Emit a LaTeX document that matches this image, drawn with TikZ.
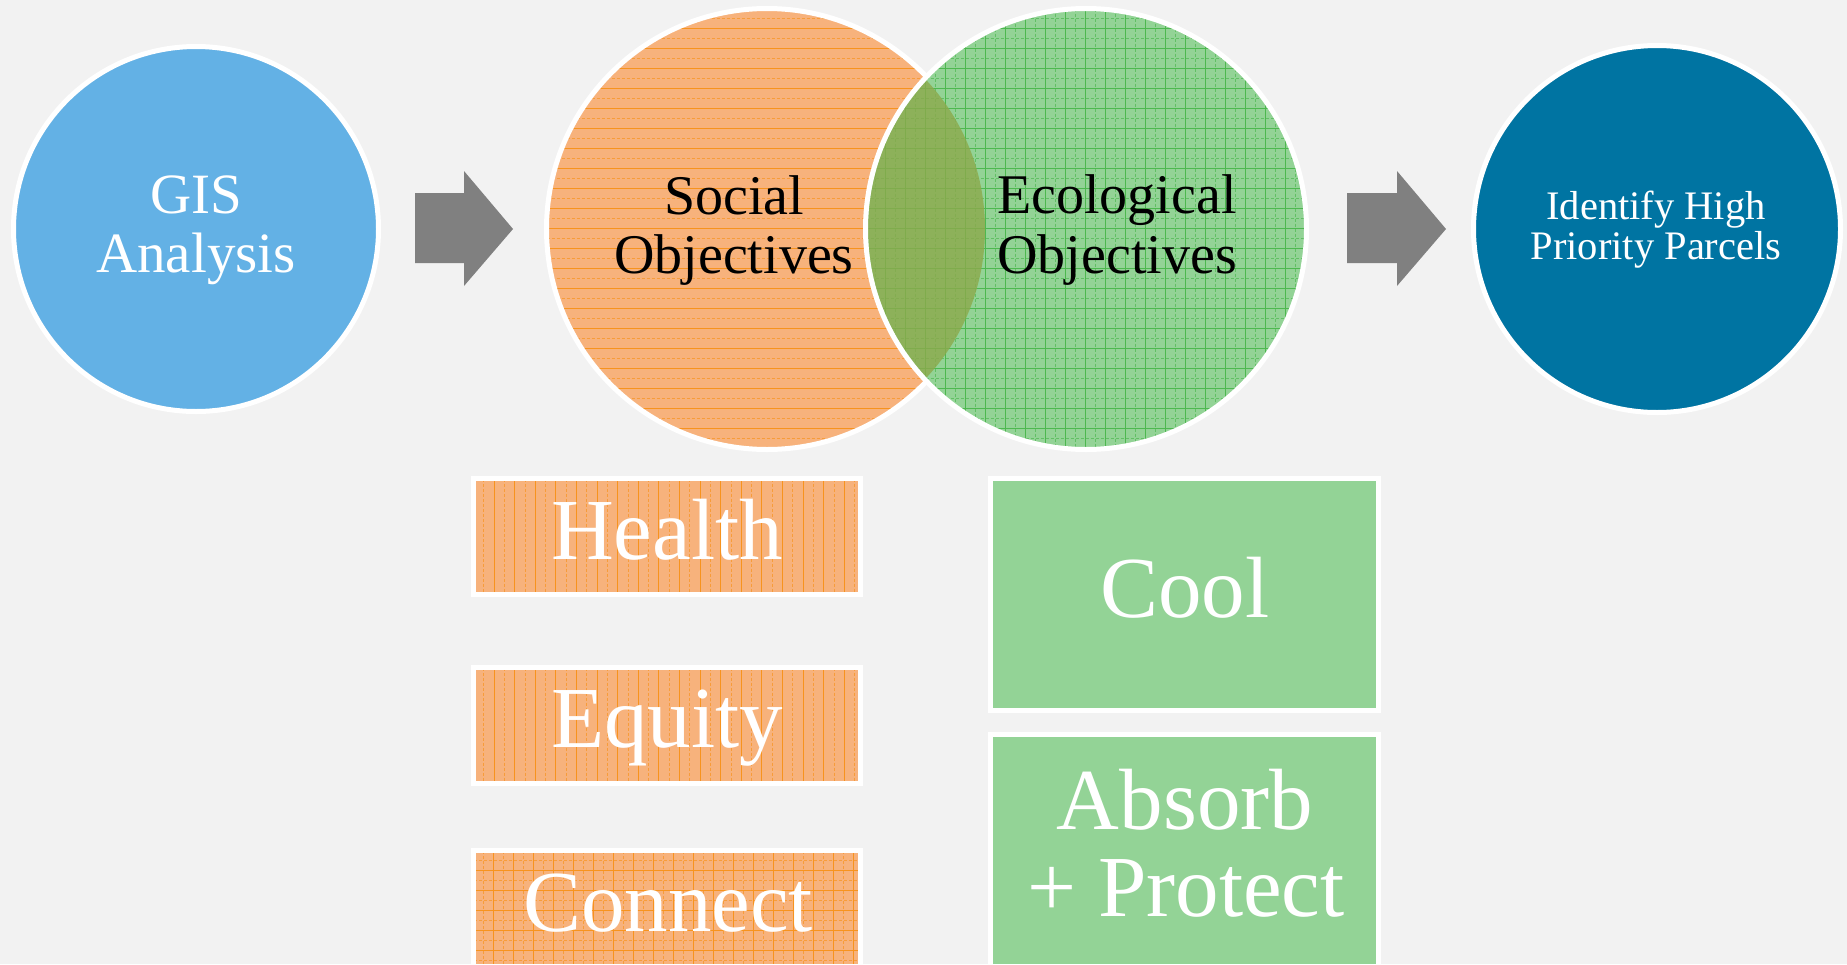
\documentclass[tikz,border=0pt]{standalone}
\usepackage{fontspec}
\setmainfont{Liberation Serif}
\definecolor{bg}{HTML}{F2F2F2}
\definecolor{gisblue}{HTML}{63B1E5}
\definecolor{darkblue}{HTML}{0074A2}
\definecolor{orbase}{HTML}{F7B27C}
\definecolor{orline}{HTML}{F7931E}
\definecolor{grbase}{HTML}{93D396}
\definecolor{grline}{HTML}{4DB84F}
\definecolor{lensc}{HTML}{8CA94C}
\definecolor{arrgray}{HTML}{808080}
\tikzset{
  bigcirc/.style={circle, draw=white, line width=5pt, inner sep=0pt, minimum size=#1},
  blk/.style={rectangle, draw=white, line width=5pt, inner sep=0pt, minimum width=#1},
  lbl/.style={anchor=base, inner sep=0pt},
  hpat/.style={path picture={
    \foreach \k in {0,...,24}{
      \draw[#1, line width=1pt] ([yshift=-\k*20pt]path picture bounding box.north west) -- ([yshift=-\k*20pt]path picture bounding box.north east);
      \draw[#1, line width=0.8pt, dash pattern=on 3pt off 2pt, opacity=0.7] ([yshift=-\k*20pt-10pt]path picture bounding box.north west) -- ([yshift=-\k*20pt-10pt]path picture bounding box.north east);
    }}},
  vpat/.style={path picture={
    \foreach \k in {0,...,22}{
      \draw[#1, line width=1pt] ([xshift=\k*20.6pt]path picture bounding box.north west) -- ([xshift=\k*20.6pt]path picture bounding box.south west);
      \draw[#1, line width=0.8pt, dash pattern=on 3pt off 2pt, opacity=0.7] ([xshift=\k*20.6pt+10.3pt]path picture bounding box.north west) -- ([xshift=\k*20.6pt+10.3pt]path picture bounding box.south west);
    }}},
  gpat/.style={path picture={
    \foreach \k in {0,...,23}{
      \draw[#1, line width=0.9pt] ([xshift=\k*20pt]path picture bounding box.north west) -- ([xshift=\k*20pt]path picture bounding box.south west);
      \draw[#1, line width=0.7pt, dash pattern=on 3pt off 2pt, opacity=0.7] ([xshift=\k*20pt+10pt]path picture bounding box.north west) -- ([xshift=\k*20pt+10pt]path picture bounding box.south west);
      \draw[#1, line width=0.9pt] ([yshift=-\k*20pt]path picture bounding box.north west) -- ([yshift=-\k*20pt]path picture bounding box.north east);
      \draw[#1, line width=0.7pt, dash pattern=on 3pt off 2pt, opacity=0.7] ([yshift=-\k*20pt-10pt]path picture bounding box.north west) -- ([yshift=-\k*20pt-10pt]path picture bounding box.north east);
    }}},
}
\begin{document}
\begin{tikzpicture}[x=1pt, y=-1pt]
\useasboundingbox (0,0) rectangle (1847,964);
\fill[bg] (0,0) rectangle (1847,964);

% circles
\node[bigcirc=365pt, fill=gisblue] (gis) at (196,229) {};
\node[bigcirc=441pt, fill=orbase, hpat=orline] (soc) at (767,229) {};
\node[bigcirc=441pt, fill=grbase, gpat=grline, draw=none] (eco) at (1086,229) {};
\begin{scope}
  \clip (soc.center) circle[radius=218pt];
  \fill[lensc, opacity=0.8] (eco.center) circle[radius=218pt];
\end{scope}
\draw[white, line width=5pt] (eco.center) circle[radius=220.5pt];
\node[bigcirc=367pt, fill=darkblue] (prio) at (1657,229) {};

% block arrows
\coordinate (a1) at (464,229);
\fill[arrgray] (415,193) -- (464,193) -- (464,171) -- (513,229) -- (464,286) -- (464,263) -- (415,263) -- cycle;
\coordinate (a2) at (1397,229);
\fill[arrgray] (1347,193) -- (1397,193) -- (1397,171) -- (1446,229) -- (1397,286) -- (1397,263) -- (1347,263) -- cycle;

% circle texts
\node[lbl, text=white, font=\fontsize{57}{59}\selectfont] (gis1) at (196,213) {GIS};
\node[lbl, text=white, font=\fontsize{57}{59}\selectfont] (gis2) at (196,272) {Analysis};
\node[lbl, text=black, font=\fontsize{56}{59}\selectfont] (soc1) at (734,214) {Social};
\node[lbl, text=black, font=\fontsize{56}{59}\selectfont] (soc2) at (734,273) {Objectives};
\node[lbl, text=black, font=\fontsize{56}{59}\selectfont] (eco1) at (1117,213) {Ecological};
\node[lbl, text=black, font=\fontsize{56}{59}\selectfont] (eco2) at (1117,273) {Objectives};
\node[lbl, text=white, font=\fontsize{40.5}{40}\selectfont] (prio1) at (1656,219) {Identify High};
\node[lbl, text=white, font=\fontsize{40.5}{40}\selectfont] (prio2) at (1656,259) {Priority Parcels};

% boxes
\node[blk=387pt, minimum height=116pt, fill=orbase, vpat=orline] (health) at (667,536.5) {};
\node[blk=387pt, minimum height=116pt, fill=orbase, vpat=orline] (equity) at (667,725.5) {};
\node[blk=387pt, minimum height=116pt, fill=orbase, gpat=orline] (connect) at (667,908.5) {};
\node[blk=388pt, minimum height=232pt, fill=grbase] (cool) at (1184.5,594.5) {};
\node[blk=388pt, minimum height=232pt, fill=grbase] (absorb) at (1184.5,850.5) {};

\node[lbl, text=white, font=\fontsize{87}{87}\selectfont] (health1) at (667,559) {Health};
\node[lbl, text=white, font=\fontsize{87}{87}\selectfont] (equity1) at (667,747) {Equity};
\node[lbl, text=white, font=\fontsize{87}{87}\selectfont] (connect1) at (668,931) {Connect};
\node[lbl, text=white, font=\fontsize{87}{87}\selectfont] (cool1) at (1185,617) {Cool};
\node[lbl, text=white, font=\fontsize{87}{87}\selectfont] (absorb1) at (1185,829) {Absorb};
\node[lbl, text=white, font=\fontsize{87}{87}\selectfont] (absorb2) at (1186,916) {+ Protect};
\end{tikzpicture}
\end{document}
